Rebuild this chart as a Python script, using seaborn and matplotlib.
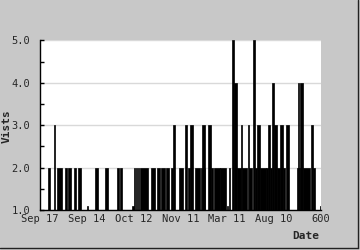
import matplotlib
matplotlib.use('Agg')
import matplotlib.pyplot as plt
import seaborn as sns
from matplotlib.lines import Line2D

# Runs of days (start inclusive, end exclusive) and the visits count
run_start = [17, 30, 36, 54, 59, 72, 81, 100, 118, 139, 164, 171, 197, 201, 205, 209, 213,
             238, 251, 259, 270, 281, 285, 297, 311, 317, 321, 332, 345, 347, 352, 359, 366,
             372, 386, 400, 405, 411, 416, 422, 431, 433, 444, 448, 456, 460, 465, 471, 483,
             487, 492, 497, 500, 506, 514, 520, 527, 549, 551, 555, 557, 562, 579, 584, 598]
run_end = [22, 32, 48, 57, 67, 78, 87, 102, 123, 146, 170, 176, 201, 204, 208, 212, 230,
           245, 256, 267, 275, 285, 288, 305, 314, 321, 327, 342, 347, 352, 353, 365, 371,
           385, 397, 402, 407, 415, 421, 430, 433, 442, 448, 453, 460, 465, 470, 483, 487,
           492, 497, 500, 506, 514, 520, 525, 532, 551, 555, 557, 562, 577, 584, 589, 600]
visits = [2, 3, 2, 2, 2, 2, 2, 1.1, 2, 2, 2, 2, 1.1, 2, 2, 2, 2,
          2, 2, 2, 2, 2, 3, 2, 3, 2, 3, 2, 2, 3, 2, 3, 2,
          2, 2, 1.1, 2, 5, 4, 2, 3, 2, 3, 2, 5, 2, 3, 2, 2,
          3, 2, 4, 3, 2, 3, 2, 3, 2, 4, 2, 4, 2, 3, 2, 1.1]

tick_pos = [0, 100, 200, 300, 400, 500, 600]
tick_labels = ['Sep 17', 'Sep 14', 'Oct 12', 'Nov 11', 'Mar 11', 'Aug 10', '600']
y_ticks = [1, 2, 3, 4, 5]

sns.set_style('white')
plt.rcParams['font.family'] = ['DejaVu Sans Mono']
plt.rcParams['font.size'] = 7.5

fig = plt.figure(figsize=(3.6, 2.5), dpi=100, facecolor='#c8c8c8')
ax = fig.add_axes([40 / 360, 40 / 250, 280.5 / 360, 169.5 / 250])
ax.set_facecolor('white')

edges = sorted(set(run_start + run_end))
mids = [(s + e) / 2 for s, e in zip(run_start, run_end)]
sns.histplot(x=mids, weights=visits, bins=edges, color='black', edgecolor='black',
             linewidth=0.5, alpha=1, ax=ax, zorder=2)

ax.set_xlim(0, 600)
ax.set_ylim(1, 5)
ax.set_xlabel('')
ax.set_ylabel('')
ax.set_yticks(y_ticks)
ax.set_yticklabels(['%.1f' % v for v in y_ticks])
ax.set_yticks([1.5, 2.5, 3.5, 4.5], minor=True)
ax.set_xticks(tick_pos)
ax.set_xticklabels(tick_labels)
ax.tick_params(axis='y', which='both', direction='in', length=3, width=1, color='black',
               left=True, pad=7, labelsize=7.5)
ax.tick_params(axis='x', length=0, pad=3, labelsize=7.5)
ax.yaxis.grid(True, color='#d9d9d9', lw=1)
ax.xaxis.grid(False)
ax.set_axisbelow(True)
for s in ['top', 'right']:
    ax.spines[s].set_visible(False)
for s in ['left', 'bottom']:
    ax.spines[s].set_color('black')
    ax.spines[s].set_linewidth(1)
    ax.spines[s].set_zorder(5)

fig.text(7 / 360, 1 - 126 / 250, 'Vists', rotation=90, ha='center', va='center',
         fontweight='bold', fontsize=8)
fig.text(319 / 360, 1 - 236 / 250, 'Date', ha='right', va='center', fontweight='bold',
         fontsize=8)

fig.add_artist(Line2D([357.5 / 360, 357.5 / 360], [2 / 250, 1], transform=fig.transFigure,
                      color='#222222', lw=1))
fig.add_artist(Line2D([0, 357.5 / 360], [2 / 250, 2 / 250], transform=fig.transFigure,
                      color='#222222', lw=1))

fig.savefig('out.png', dpi=100, facecolor=fig.get_facecolor())
